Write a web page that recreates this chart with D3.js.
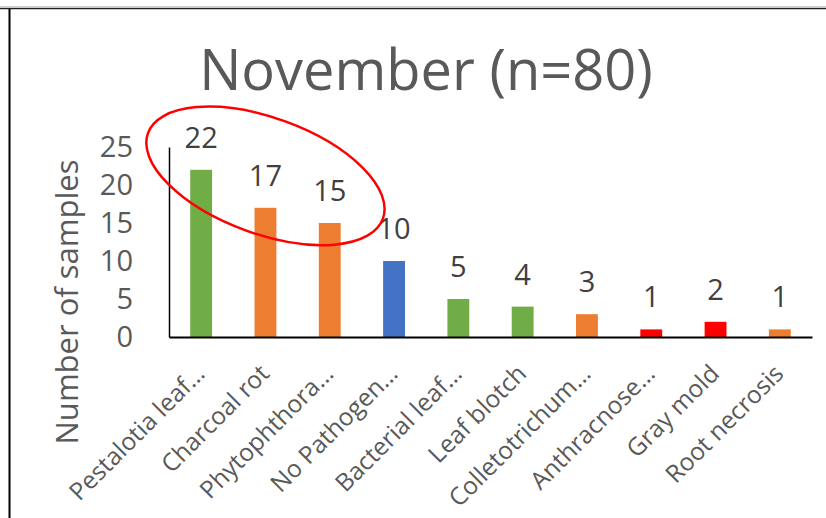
<!DOCTYPE html>
<html>
<head>
<meta charset="utf-8">
<script src="https://cdn.jsdelivr.net/npm/d3@7"></script>
<style>
  body { margin: 0; background: #fff; }
  text { font-family: "Open Sans", "Noto Sans", sans-serif; }
</style>
</head>
<body>
<svg id="chart" width="826" height="518"></svg>
<script>
// chart data
const categories = ["Pestalotia leaf\u2026", "Charcoal rot", "Phytophthora\u2026", "No Pathogen\u2026",
  "Bacterial leaf\u2026", "Leaf blotch", "Colletotrichum\u2026", "Anthracnose\u2026", "Gray mold", "Root necrosis"];
const counts = [22, 17, 15, 10, 5, 4, 3, 1, 2, 1];
const groups = ["green", "orange", "orange", "blue", "green", "green", "orange", "red", "red", "orange"];
const yTicks = [0, 5, 10, 15, 20, 25];

const palette = { green: "#70AD47", orange: "#ED7D31", blue: "#4472C4", red: "#FF0000" };

const svg = d3.select("#chart");

// frame lines from the slide
svg.append("line").attr("x1", 0).attr("x2", 826).attr("y1", 7).attr("y2", 7)
  .attr("stroke", "#9a9a9a").attr("stroke-width", 1);
svg.append("line").attr("x1", 0).attr("x2", 826).attr("y1", 8.6).attr("y2", 8.6)
  .attr("stroke", "#222").attr("stroke-width", 1.4);
svg.append("line").attr("x1", 9.5).attr("x2", 9.5).attr("y1", 9).attr("y2", 518)
  .attr("stroke", "#000").attr("stroke-width", 2);

const plot = { left: 169, right: 812, top: 147, bottom: 337 };

const x = d3.scaleBand()
  .domain(categories)
  .range([plot.left, plot.right])
  .paddingInner(0.66)
  .paddingOuter(0.33);

const y = d3.scaleLinear()
  .domain([0, 25])
  .range([plot.bottom, plot.top]);

// title
svg.append("text")
  .attr("x", 426).attr("y", 90)
  .attr("text-anchor", "middle")
  .attr("font-size", 56)
  .attr("fill", "#595959")
  .text("November (n=80)");

// y axis label
svg.append("text")
  .attr("transform", "translate(78," + 302 + ") rotate(-90)")
  .attr("text-anchor", "middle")
  .attr("font-size", 31)
  .attr("fill", "#595959")
  .text("Number of samples");

// y axis
const yAxis = svg.append("g")
  .attr("transform", "translate(" + plot.left + ",0)")
  .call(d3.axisLeft(y).tickValues(yTicks).tickSize(0).tickPadding(36));
yAxis.select(".domain").attr("stroke", "#000").attr("stroke-width", 1.5);
yAxis.selectAll("text").attr("font-size", 29).attr("fill", "#595959")
  .attr("font-family", "Open Sans");

// bars
svg.selectAll("rect.bar")
  .data(counts)
  .join("rect")
  .attr("class", "bar")
  .attr("x", (d, i) => x(categories[i]))
  .attr("width", x.bandwidth())
  .attr("y", d => y(d))
  .attr("height", d => y(0) - y(d))
  .attr("fill", (d, i) => palette[groups[i]]);

// x axis
const xAxis = svg.append("g")
  .attr("transform", "translate(0," + plot.bottom + ")")
  .call(d3.axisBottom(x).tickSize(0).tickSizeOuter(0));
xAxis.select(".domain").attr("stroke", "#000").attr("stroke-width", 2);
xAxis.selectAll("text")
  .attr("font-size", 24.5)
  .attr("fill", "#595959")
  .attr("font-family", "Open Sans")
  .attr("text-anchor", "end")
  .attr("dy", "0.35em")
  .attr("transform", "translate(-3,30) rotate(-45)");

// data labels
svg.selectAll("text.val")
  .data(counts)
  .join("text")
  .attr("class", "val")
  .attr("x", (d, i) => x(categories[i]) + x.bandwidth() / 2)
  .attr("y", d => y(d) - 22)
  .attr("text-anchor", "middle")
  .attr("font-size", 29)
  .attr("fill", "#404040")
  .text(d => d);

// red highlight ellipse around the top three
const cx = (x(categories[0]) + x(categories[2]) + x.bandwidth()) / 2;
svg.append("ellipse")
  .attr("transform", "translate(" + cx + "," + y(21.2) + ") rotate(20)")
  .attr("rx", 125).attr("ry", 58)
  .attr("fill", "none")
  .attr("stroke", "#FF0000")
  .attr("stroke-width", 2.5);
</script>
</body>
</html>
